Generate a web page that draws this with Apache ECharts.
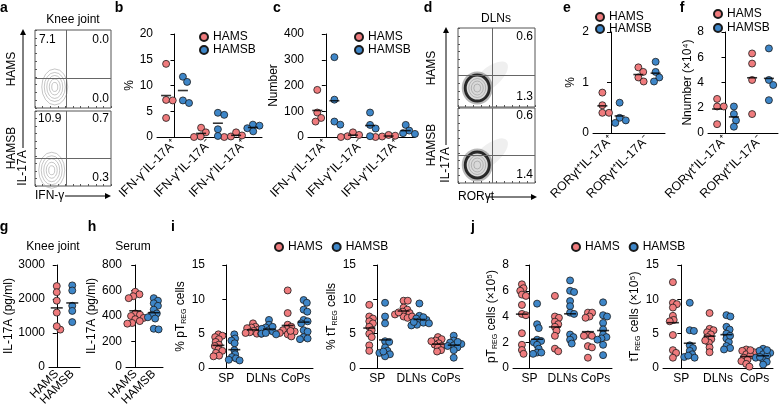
<!DOCTYPE html>
<html>
<head>
<meta charset="utf-8">
<script src="https://cdn.jsdelivr.net/npm/echarts@6/dist/echarts.min.js"></script>
<style>
  html, body { margin: 0; background: #fff; }
  #main { width: 781px; height: 410px; }
</style>
</head>
<body>
<div id="main"></div>
<script>
// ---- data ----
const groupNames = ['HAMS', 'HAMSB'];

// a: flow plots, knee joint (quadrant frequencies: UL, UR, LR)
const aFreq = [['7.1', '0.0', '0.0'], ['10.9', '0.7', '0.3']];
const aGateX = 41;
const aGateY = [38.5, 37];
const aCenter = [[26, 27], [22, 21]];

// d: flow plots, DLNs (UR, LR)
const dFreq = [['0.6', '1.3'], ['0.6', '1.4']];
const dGateX = 44;
const dGateY = [40.5, 37];
const dCenter = [[25, 24], [25, 24]];

// b, c
const bCats = ['IFN-γ⁻IL-17A⁺', 'IFN-γ⁺IL-17A⁻', 'IFN-γ⁺IL-17A⁺'];
const bHams = [[14.2, 7.2, 7.1, 3.7], [1.8, 0.9, 0.1, 0], [0, 0.1, 0.3, 0.9]];
const bHamsb = [[11.7, 10.7, 7.1, 6.6], [4.7, 4.3, 1.5, 0.2], [2.4, 2.2, 1.7, 1.1]];
const cHams = [[183, 95, 74, 60], [18, 8, 3, 0], [8, 5, 2, 0]];
const cHamsb = [[310, 145, 60, 48], [95, 47, 33, 3], [47, 25, 15, 12]];

// e, f
const eCats = ['RORγt⁺IL-17A⁺', 'RORγt⁺IL-17A⁻'];
const eHams = [[0.8, 0.55, 0.4, 0.4], [1.3, 1.21, 1.1, 1.02]];
const eHamsb = [[0.6, 0.3, 0.25, 0.2], [1.41, 1.21, 1.1, 1.02]];
const fHams = [[2.7, 2.1, 2.1, 0.7], [6.3, 5.5, 4.2, 1.5]];
const fHamsb = [[2.1, 1.5, 1.0, 0.5], [6.7, 4.2, 3.8, 2.6]];

// g, h (IL-17A pg/ml)
const ghCats = ['HAMS', 'HAMSB'];
const gHams = [2380, 2200, 1950, 1600, 1100, 1200];
const gHamsb = [2400, 2250, 1800, 1650, 1320];
const hHams = [590, 570, 555, 540, 420, 410, 400, 385, 375, 360, 345, 340];
const hHamsb = [540, 520, 500, 480, 450, 420, 410, 390, 380, 300, 295];

// i, j
const siteCats = ['SP', 'DLNs', 'CoPs'];
const iPtHams = [[4.9, 4.7, 4.5, 4.2, 3.8, 3.4, 3.2, 2.7, 2.5, 2.2, 1.8, 1.7], [6.5, 6.0, 5.9, 5.8, 5.6, 5.4, 5.2, 5.0, 5.0, 5.1], [11.3, 8.0, 6.3, 6.0, 5.7, 5.5, 5.3, 5.1, 4.9, 4.6, 5.4]];
const iPtHamsb = [[4.9, 4.3, 4.0, 3.6, 2.6, 2.0, 1.6, 1.4, 1.2, 1.1], [7.0, 6.3, 5.9, 5.7, 5.5, 5.3, 5.0, 4.9, 5.1, 6.0], [9.9, 9.5, 8.5, 8.2, 7.0, 6.8, 6.5, 5.5, 5.3, 4.5, 4.3, 4.2]];
const iTtHams = [[9.2, 7.5, 7.2, 6.8, 6.5, 6.0, 5.5, 5.0, 4.5, 3.3, 2.5], [9.8, 9.8, 8.8, 8.5, 8.2, 8.0, 7.8, 7.5, 7.3, 7.5, 8.1], [4.5, 4.2, 4.0, 3.6, 3.4, 3.2, 3.0, 2.6, 2.4, 3.9]];
const iTtHamsb = [[9.5, 7.5, 6.5, 3.9, 3.8, 3.0, 2.5, 2.2, 2.0, 1.7, 2.4], [9.4, 7.6, 7.2, 7.0, 6.8, 6.6, 6.5, 6.3, 6.2, 6.7, 7.4], [4.7, 4.0, 3.7, 3.5, 3.3, 3.2, 3.0, 2.6, 1.5, 3.8]];
const jPtHams = [[6.5, 6.2, 6.0, 5.7, 5.6, 4.9, 4.2, 4.1, 2.7, 1.8, 1.4, 1.1], [5.6, 4.0, 3.9, 3.6, 3.4, 3.2, 2.9, 2.5, 1.5, 1.3], [4.3, 4.3, 4.0, 3.9, 2.6, 2.5, 2.5, 1.7, 1.6, 0.8]];
const jPtHamsb = [[5.0, 3.4, 3.1, 2.2, 2.1, 2.0, 1.8, 1.5, 1.2, 1.1, 1.2], [6.8, 6.0, 5.9, 5.2, 4.8, 4.3, 4.2, 2.6, 2.4, 2.2, 1.9], [5.1, 4.1, 4.0, 3.5, 3.0, 2.6, 2.4, 2.3, 2.2, 1.8, 1.0]];
const jTtHams = [[12.5, 9.5, 9.3, 8.8, 7.6, 7.0, 6.8, 4.8, 2.6, 2.2, 1.5], [8.0, 5.7, 5.5, 5.2, 4.9, 4.5, 4.2, 3.7, 3.0, 2.3, 4.0], [2.7, 2.5, 2.3, 2.0, 1.8, 1.5, 1.2, 1.0, 0.6, 0.2, 2.6]];
const jTtHamsb = [[9.5, 5.5, 5.4, 3.3, 2.9, 2.5, 2.0, 1.6, 1.5, 1.8], [7.7, 7.5, 6.0, 5.6, 5.0, 4.3, 3.8, 3.2, 2.9, 2.7, 4.7], [2.8, 2.5, 2.2, 2.0, 1.8, 1.5, 1.2, 0.9, 0.5, 2.6, 1.6]];

// ---- styling ----
const FONT = 'Liberation Sans, Arial, Helvetica, sans-serif';
const COLORS = ['#ef7b7d', '#3e86c8'];
const DOT = 7;
const ELLIPSE = 'path://M0,-1A1,1,0,1,1,0,1A1,1,0,1,1,0,-1Z';

const option = {
  animation: false,
  textStyle: { fontFamily: FONT, color: '#000' },
  grid: [], xAxis: [], yAxis: [], series: [], legend: [], graphic: []
};

function mean(a) {
  return a.reduce((s, v) => s + v, 0) / a.length;
}

// simple beeswarm: horizontal pixel offsets so dots don't pile up completely
function swarm(vals, pxPerUnit, d) {
  const order = vals.map((v, i) => i).sort((a, b) => vals[b] - vals[a]);
  const placed = [];
  const out = [];
  order.forEach(i => {
    const y = vals[i] * pxPerUnit;
    const near = placed.filter(p => Math.abs(p.y - y) < d);
    const cands = [0];
    near.forEach(p => {
      const dx = Math.sqrt(d * d - (p.y - y) * (p.y - y));
      cands.push(p.x + dx, p.x - dx);
    });
    cands.sort((a, b) => Math.abs(a) - Math.abs(b));
    const x = cands.find(c => near.every(p => (p.x - c) ** 2 + (p.y - y) ** 2 >= d * d - 0.01));
    placed.push({ x: x, y: y });
    out[i] = x;
  });
  return out;
}

function panel(p) {
  const [left, top, width, height] = p.rect;
  const gi = option.grid.length;
  option.grid.push({ left: left, top: top, width: width, height: height });
  const xa = option.xAxis.length;
  option.xAxis.push({
    gridIndex: gi, type: 'category', data: p.cats, boundaryGap: true,
    axisLine: { lineStyle: { color: '#000', width: 1 } },
    axisTick: { alignWithLabel: true, length: 4, lineStyle: { color: '#000' } },
    axisLabel: { color: '#000', fontSize: p.catFont || 12, rotate: p.rotate || 0, margin: 5, interval: 0, fontFamily: FONT },
    splitLine: { show: false }
  });
  option.xAxis.push({ gridIndex: gi, type: 'value', min: -0.5, max: p.cats.length - 0.5, show: false });
  const ya = option.yAxis.length;
  option.yAxis.push({
    gridIndex: gi, type: 'value', min: 0, max: p.max, interval: p.step,
    name: p.name, nameLocation: 'middle', nameGap: p.gap, nameRotate: 90,
    nameTextStyle: Object.assign({ fontSize: 12, color: '#000', fontFamily: FONT }, p.nameStyle || {}),
    axisLine: { show: true, lineStyle: { color: '#000', width: 1 } },
    axisTick: { show: true, length: 4, lineStyle: { color: '#000' } },
    axisLabel: { color: '#000', fontSize: 12, margin: 4, fontFamily: FONT, formatter: v => String(v) },
    splitLine: { show: false }
  });
  const pxY = height / p.max;
  const pxCat = width / p.cats.length;
  p.sets.forEach((set, g) => {
    const shift = p.shift * (g === 0 ? -1 : 1);
    const pts = [];
    const bars = [];
    set.forEach((vals, ci) => {
      if (!vals.length) return;
      const offs = swarm(vals, pxY, DOT * (p.spread || 0.7));
      vals.forEach((v, k) => pts.push([ci + shift + offs[k] / pxCat, v]));
      bars.push([ci + shift, mean(vals)]);
    });
    option.series.push({
      type: 'scatter', name: groupNames[g], xAxisIndex: xa + 1, yAxisIndex: ya,
      data: pts, symbol: 'circle', symbolSize: DOT, silent: true,
      itemStyle: { color: COLORS[g], borderColor: '#1a1a1a', borderWidth: 0.8, opacity: 1 }
    });
    option.series.push({
      type: 'scatter', xAxisIndex: xa + 1, yAxisIndex: ya, data: bars,
      symbol: 'rect', symbolSize: [p.bar || 12, 1.6], silent: true, z: 3,
      itemStyle: { color: '#000' }
    });
  });
}

function flow(rect, gateX, gateY, center, dense) {
  const [left, top, width, height] = rect;
  const gi = option.grid.length;
  option.grid.push({ left: left, top: top, width: width, height: height, show: true, borderColor: '#555', borderWidth: 1 });
  const ax = {
    gridIndex: gi, type: 'value', min: 0, max: 100, interval: 10,
    axisLine: { show: false }, axisLabel: { show: false }, splitLine: { show: false },
    axisTick: { show: true, inside: true, length: 2, lineStyle: { color: '#555' } }
  };
  const xi = option.xAxis.length, yi = option.yAxis.length;
  option.xAxis.push(Object.assign({}, ax));
  option.yAxis.push(Object.assign({}, ax));
  option.series.push({
    type: 'scatter', xAxisIndex: xi, yAxisIndex: yi, data: [], silent: true,
    markLine: {
      silent: true, symbol: 'none', animation: false, label: { show: false },
      lineStyle: { color: '#666', width: 1, type: 'solid' },
      data: [{ xAxis: gateX }, { yAxis: gateY }]
    }
  });
  const ring = (sizes, fill, stroke, lw, extra) => option.series.push(Object.assign({
    type: 'scatter', xAxisIndex: xi, yAxisIndex: yi, silent: true,
    data: sizes.map(() => center), symbol: ELLIPSE,
    symbolSize: (v, prm) => sizes[prm.dataIndex],
    itemStyle: { color: fill, borderColor: stroke, borderWidth: lw }
  }, extra || {}));
  if (dense) {
    ring([[46, 20]], 'rgba(0,0,0,0.08)', 'transparent', 0, { symbolRotate: 40, symbolOffset: [12, -10] });
    ring([[31, 33]], 'rgba(0,0,0,0.35)', 'transparent', 0);
    ring([[24, 26]], '#e4e4e4', '#000', 3);
    ring([[17, 19], [12, 14], [7, 8]], 'transparent', '#999', 0.8);
  } else {
    ring([[26, 36], [21, 29], [16, 23], [11, 16], [6, 9]], 'transparent', '#9a9a9a', 0.7);
  }
}

// ---- layout ----
flow([35, 30, 76, 78], aGateX, aGateY[0], aCenter[0], false);
flow([35, 111, 76, 75], aGateX, aGateY[1], aCenter[1], false);
flow([458, 28, 77, 79], dGateX, dGateY[0], dCenter[0], true);
flow([458, 108, 77, 75], dGateX, dGateY[1], dCenter[1], true);

panel({ rect: [157, 34, 105, 103], cats: bCats, sets: [bHams, bHamsb], max: 20, step: 5, name: '%', gap: 20, rotate: 45, catFont: 12.5, shift: 0.24, bar: 10, spread: 0.95 });
panel({ rect: [308, 34, 107, 103], cats: bCats, sets: [cHams, cHamsb], max: 400, step: 100, name: 'Number', gap: 28, rotate: 45, catFont: 12.5, shift: 0.24, bar: 10, spread: 0.95 });
panel({ rect: [593, 32, 72, 101], cats: eCats, sets: [eHams, eHamsb], max: 2, step: 1, name: '%', gap: 16, rotate: 45, catFont: 12.5, shift: 0.24, bar: 10, spread: 0.95 });
panel({ rect: [708, 32, 70, 101], cats: eCats, sets: [fHams, fHamsb], max: 8, step: 2, name: 'Nnumber (×10⁴)', gap: 9, rotate: 45, catFont: 12.5, shift: 0.24, bar: 10, spread: 0.95 });
panel({ rect: [49, 265, 31, 102], cats: ghCats, sets: [[gHams, []], [[], gHamsb]], max: 3000, step: 1000, name: 'IL-17A (pg/ml)', gap: 33, rotate: 45, shift: 0, bar: 12 });
panel({ rect: [126, 265, 37, 102], cats: ghCats, sets: [[hHams, []], [[], hHamsb]], max: 800, step: 200, name: 'IL-17A (pg/ml)', gap: 22, rotate: 45, shift: 0, bar: 12 });

const regRich = { t: { fontSize: 12, fontFamily: FONT, color: '#000' }, s: { fontSize: 7, fontFamily: FONT, color: '#000', verticalAlign: 'bottom', lineHeight: 14 } };
panel({ rect: [209, 265, 104, 103], cats: siteCats, sets: [iPtHams, iPtHamsb], max: 15, step: 5, name: '{t|% pT}{s|REG}{t| cells}', nameStyle: { rich: regRich }, gap: 18, shift: 0.23, bar: 12, spread: 0.6 });
panel({ rect: [360, 265, 103, 103], cats: siteCats, sets: [iTtHams, iTtHamsb], max: 15, step: 5, name: '{t|% tT}{s|REG}{t| cells}', nameStyle: { rich: regRich }, gap: 20, shift: 0.23, bar: 12, spread: 0.6 });
panel({ rect: [513, 265, 99, 103], cats: siteCats, sets: [jPtHams, jPtHamsb], max: 8, step: 2, name: '{t|pT}{s|REG}{t| cells (×10⁵)}', nameStyle: { rich: regRich }, gap: 14, shift: 0.23, bar: 12, spread: 0.6 });
panel({ rect: [663, 265, 110, 103], cats: siteCats, sets: [jTtHams, jTtHamsb], max: 15, step: 5, name: '{t|tT}{s|REG}{t| cells (×10⁵)}', nameStyle: { rich: regRich }, gap: 20, shift: 0.23, bar: 12, spread: 0.6 });

// legends
function legend(left, top, orient, gap) {
  option.legend.push({
    left: left, top: top, orient: orient, itemGap: gap, padding: 0,
    itemWidth: 8, itemHeight: 8, icon: 'circle', selectedMode: false,
    textStyle: { fontSize: 12, color: '#000', fontFamily: FONT },
    data: groupNames
  });
}
legend(199, 31, 'vertical', 1);
legend(354, 31, 'vertical', 1);
legend(595, 11, 'vertical', 0);
legend(713, 8, 'vertical', 2);
legend(274, 241, 'horizontal', 9);
legend(571, 241, 'horizontal', 9);

// text annotations
function txt(x, y, s, o) {
  o = o || {};
  option.graphic.push({
    type: 'text', x: x, y: y, rotation: o.rot || 0, silent: true,
    style: { text: s, fontSize: o.size || 12, fontWeight: o.bold ? 'bold' : 'normal', fontFamily: FONT, fill: '#000', align: o.align || 'center', verticalAlign: 'middle' }
  });
}
function arrow(x1, y1, x2, y2) {
  const ang = Math.atan2(y2 - y1, x2 - x1);
  const L = 6, W = 3;
  const bx = x2 - L * Math.cos(ang), by = y2 - L * Math.sin(ang);
  option.graphic.push({ type: 'polyline', silent: true, shape: { points: [[x1, y1], [bx, by]] }, style: { stroke: '#000', lineWidth: 1 } });
  option.graphic.push({
    type: 'polygon', silent: true,
    shape: { points: [[x2, y2], [bx - W * Math.sin(ang), by + W * Math.cos(ang)], [bx + W * Math.sin(ang), by - W * Math.cos(ang)]] },
    style: { fill: '#000' }
  });
}
const V = Math.PI / 2;

// panel letters
[['a', 4, 8], ['b', 119, 8], ['c', 277, 8], ['d', 428, 8], ['e', 567, 8], ['f', 682, 8],
 ['g', 4, 227], ['h', 92, 227], ['i', 173, 227], ['j', 473, 227]].forEach(l => txt(l[1], l[2], l[0], { bold: true, size: 14 }));

// titles
txt(73, 20, 'Knee joint');
txt(496, 19, 'DLNs');
txt(53, 247, 'Knee joint');
txt(133, 247, 'Serum');

// a annotations
txt(12, 69, 'HAMS', { rot: V });
txt(12, 148, 'HAMSB', { rot: V });
txt(23, 168, 'IL-17A', { rot: V });
arrow(23, 148, 23, 29);
txt(35, 196, 'IFN-γ', { align: 'left' });
arrow(65, 196, 111, 196);
txt(39, 40, aFreq[0][0], { align: 'left' });
txt(109, 40, aFreq[0][1], { align: 'right' });
txt(109, 99, aFreq[0][2], { align: 'right' });
txt(38, 119, aFreq[1][0], { align: 'left' });
txt(109, 119, aFreq[1][1], { align: 'right' });
txt(109, 178, aFreq[1][2], { align: 'right' });

// d annotations
txt(432, 68, 'HAMS', { rot: V });
txt(432, 145, 'HAMSB', { rot: V });
txt(446, 165, 'IL-17A', { rot: V });
arrow(446, 145, 446, 27);
txt(458, 197, 'RORγt', { align: 'left' });
arrow(487, 197, 537, 197);
txt(533, 37, dFreq[0][0], { align: 'right' });
txt(533, 97, dFreq[0][1], { align: 'right' });
txt(533, 116, dFreq[1][0], { align: 'right' });
txt(533, 175, dFreq[1][1], { align: 'right' });

const chart = echarts.init(document.getElementById('main'), null, { renderer: 'canvas' });
chart.setOption(option);
</script>
</body>
</html>
